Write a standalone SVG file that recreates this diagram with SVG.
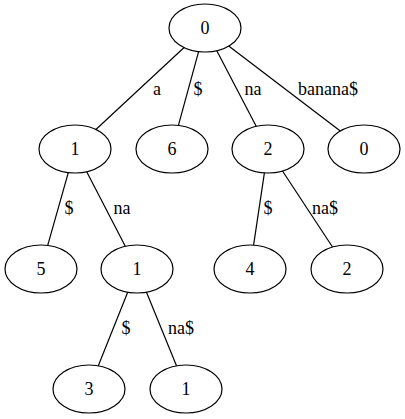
<svg xmlns="http://www.w3.org/2000/svg" width="405" height="419" viewBox="0 0 405 419">
<style>
  .node ellipse { fill: none; stroke: #000; stroke-width: 1.2; }
  text { font-family: "Liberation Serif", "Times New Roman", serif; font-size: 18px; fill: #000; }
  .node text { text-anchor: middle; }
  .edges line { stroke: #000; stroke-width: 1.2; }
  .edges text { text-anchor: middle; }
</style>
<rect x="0" y="0" width="405" height="419" fill="#fff"/>
<g class="edges" id="connectors">
  <line x1="184.1" y1="47.5" x2="95.9" y2="129.5"/>
  <line x1="198.6" y1="51.6" x2="178.4" y2="125.4"/>
  <line x1="216.8" y1="50.7" x2="256.2" y2="126.3"/>
  <line x1="228.7" y1="46.1" x2="340.3" y2="131"/>
  <line x1="68.3" y1="172.6" x2="47.7" y2="245.4"/>
  <line x1="86.7" y1="171.7" x2="125.3" y2="246.3"/>
  <line x1="264.4" y1="172.9" x2="253.6" y2="245.1"/>
  <line x1="282.5" y1="171" x2="332.5" y2="247"/>
  <line x1="127.7" y1="292.2" x2="98.3" y2="365.8"/>
  <line x1="146.5" y1="292.2" x2="176.5" y2="365.8"/>
  <text x="157" y="95">a</text>
  <text x="198" y="95">$</text>
  <text x="253" y="95">na</text>
  <text x="328" y="95">banana$</text>
  <text x="69" y="214">$</text>
  <text x="122" y="214">na</text>
  <text x="268" y="214">$</text>
  <text x="325" y="214">na$</text>
  <text x="126" y="334">$</text>
  <text x="181" y="334">na$</text>
</g>
<g class="node" id="n_root"><ellipse cx="205" cy="28" rx="36" ry="24"/><text x="205" y="34">0</text></g>
<g class="node" id="n_a"><ellipse cx="75" cy="149" rx="36" ry="24"/><text x="75" y="155">1</text></g>
<g class="node" id="n_6"><ellipse cx="172" cy="149" rx="36" ry="24"/><text x="172" y="155">6</text></g>
<g class="node" id="n_na"><ellipse cx="268" cy="149" rx="36" ry="24"/><text x="268" y="155">2</text></g>
<g class="node" id="n_0"><ellipse cx="364" cy="149" rx="36" ry="24"/><text x="364" y="155">0</text></g>
<g class="node" id="n_5"><ellipse cx="41" cy="269" rx="36" ry="24"/><text x="41" y="275">5</text></g>
<g class="node" id="n_ana"><ellipse cx="137" cy="269" rx="36" ry="24"/><text x="137" y="275">1</text></g>
<g class="node" id="n_4"><ellipse cx="250" cy="269" rx="36" ry="24"/><text x="250" y="275">4</text></g>
<g class="node" id="n_2"><ellipse cx="347" cy="269" rx="36" ry="24"/><text x="347" y="275">2</text></g>
<g class="node" id="n_3"><ellipse cx="89" cy="389" rx="36" ry="24"/><text x="89" y="395">3</text></g>
<g class="node" id="n_1"><ellipse cx="186" cy="389" rx="36" ry="24"/><text x="186" y="395">1</text></g>
</svg>
